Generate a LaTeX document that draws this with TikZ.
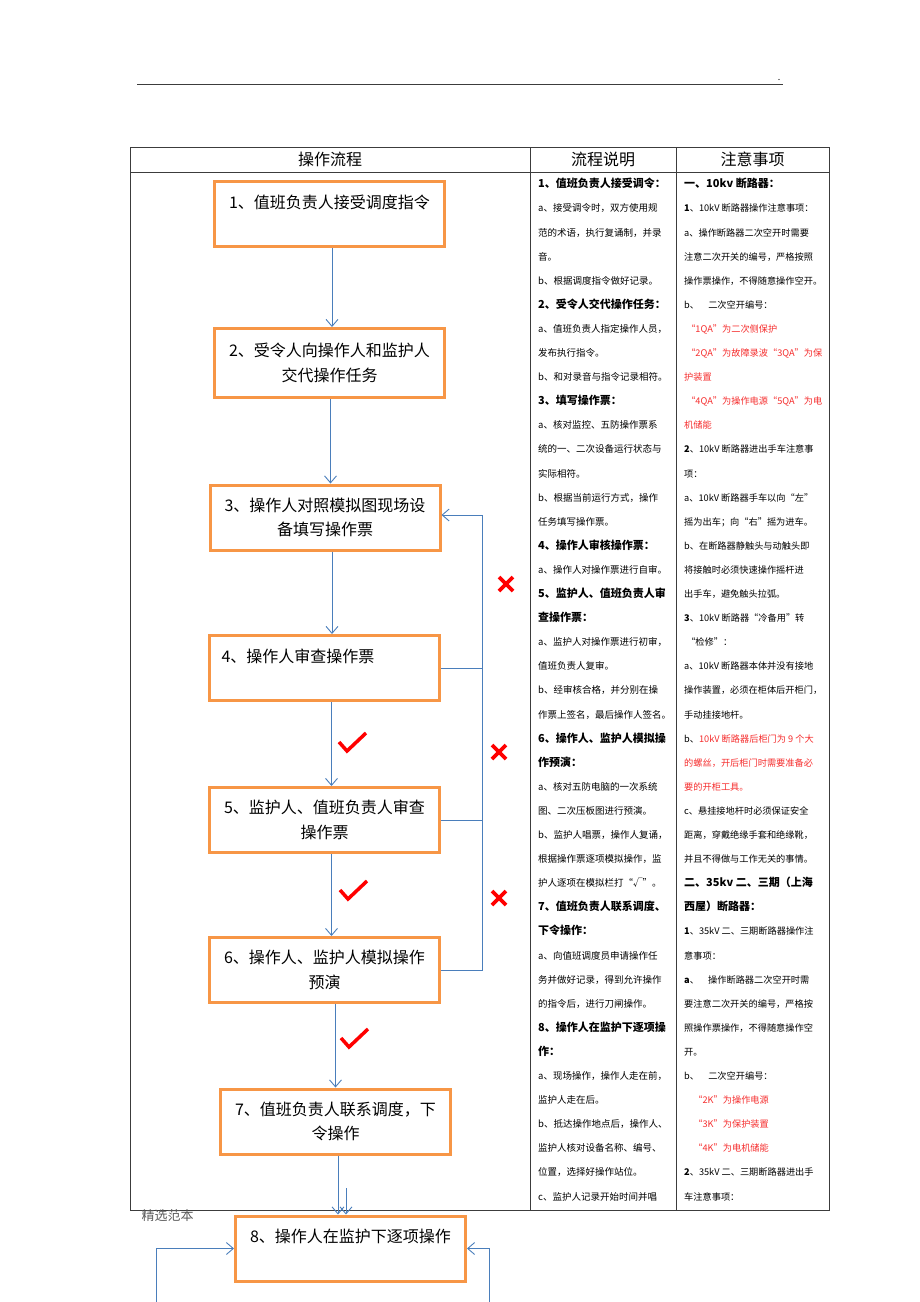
\documentclass[tikz,border=0pt]{standalone}
\usepackage{fontspec}
\setmainfont{Noto Sans CJK SC}
\usetikzlibrary{arrows.meta,positioning,calc}
\definecolor{boxorange}{RGB}{247,150,70}
\definecolor{flowblue}{RGB}{74,126,187}
\definecolor{notered}{RGB}{245,45,45}
\definecolor{rulegray}{RGB}{60,60,60}
\newcommand{\stephead}[1]{{\fontsize{11}{24.1}\selectfont\bfseries #1}}

\begin{document}
\begin{tikzpicture}[x=1pt, y=-1pt,
  stepbox/.style={draw=boxorange, line width=3pt, fill=white, align=center, minimum width=230pt, minimum height=65pt, inner sep=0pt, font=\fontsize{16}{24.5}\selectfont},
  arrow/.style={-{Straight Barb[length=7pt,width=12pt]}, flowblue, line width=0.9pt},
  link/.style={flowblue, line width=0.9pt},
  rule/.style={rulegray, line width=0.8pt},
  head/.style={font=\fontsize{16}{20}\selectfont},
  notes/.style={anchor=base west, align=left, inner sep=0pt},
  tick/.pic={\draw[red, line width=3.5pt] (-13,0) -- (-5,9) -- (14,-9);},
  cross/.pic={\draw[red, line width=3.8pt] (-7,-7) -- (7,7) (-7,7) -- (7,-7);}
]
\useasboundingbox (0,0) rectangle (920,1302);

\draw[rule] (137,84) -- (783,84);
\node[font=\small] (dot) at (779,80) {.};

\draw[rule] (130,147) rectangle (829,1210);
\draw[rule] (130,172) -- (829,172);
\draw[rule] (530,147) -- (530,1210);
\draw[rule] (676,147) -- (676,1210);
\node[head] (h1) at (330,159.5) {操作流程};
\node[head] (h2) at (603,159.5) {流程说明};
\node[head] (h3) at (752.5,159.5) {注意事项};

\node[stepbox] (s1) at (329.5,214) {1、值班负责人接受调度指令\\ \mbox{}};
\node[stepbox, minimum height=69pt] (s2) at (329.5,363) {2、受令人向操作人和监护人\\交代操作任务};
\node[stepbox] (s3) at (325,517.5) {3、操作人对照模拟图现场设\\备填写操作票};
\node[stepbox, align=left, text width=206pt] (s4) at (324.5,668) {4、操作人审查操作票\\ \mbox{}};
\node[stepbox] (s5) at (324.5,820) {5、监护人、值班负责人审查\\操作票};
\node[stepbox] (s6) at (324.5,970) {6、操作人、监护人模拟操作\\预演};
\node[stepbox] (s7) at (335.5,1121.5) {7、值班负责人联系调度，下\\令操作};
\node[stepbox] (s8) at (350.5,1248.5) {8、操作人在监护下逐项操作\\ \mbox{}};

\draw[arrow] ([xshift=2.5]s1.south) -- ([xshift=2.5]s2.north);
\draw[arrow] ([xshift=1]s2.south) -- ([xshift=1]s2.south |- s3.north);
\draw[arrow] ([xshift=7]s3.south) -- ([xshift=7]s3.south |- s4.north);
\draw[arrow] ([xshift=7]s4.south) -- ([xshift=7]s5.north);
\draw[arrow] ([xshift=7]s5.south) -- ([xshift=7]s6.north);
\draw[arrow] (s6.south -| s7.north) -- (s7.north);
\draw[arrow] ([xshift=2.5]s7.south) -- ([xshift=2.5]s7.south |- s8.north);
\coordinate (relay) at (346,1188);
\draw[arrow] (relay) -- (relay |- s8.north);

\coordinate (back) at (482,515);
\draw[arrow] (s6.east) -| (back) -- (back -| s3.east);
\draw[link] (s4.east) -- (s4.east -| back);
\draw[link] (s5.east) -- (s5.east -| back);

\coordinate (left8) at (156,1302);
\coordinate (right8) at (489,1302);
\draw[arrow] (left8) |- (s8.west);
\draw[arrow] (right8) |- (s8.east);

\pic at (352,742) {tick};
\pic at (353,890) {tick};
\pic at (354,1038) {tick};
\pic at (506,584) {cross};
\pic at (499,752) {cross};
\pic at (499,898) {cross};

\node[font=\fontsize{13}{13}\selectfont, text=gray!70!black, anchor=west] (foot) at (138,1216) {精选范本};

\node[notes, font=\fontsize{9.5}{24.1}\selectfont] (flownotes) at (538,1200) {%
\stephead{1、值班负责人接受调令：}\\
a、接受调令时，双方使用规\\
范的术语，执行复诵制，并录\\
音。\\
b、根据调度指令做好记录。\\
\stephead{2、受令人交代操作任务：}\\
a、值班负责人指定操作人员，\\
发布执行指令。\\
b、和对录音与指令记录相符。\\
\stephead{3、填写操作票：}\\
a、核对监控、五防操作票系\\
统的一、二次设备运行状态与\\
实际相符。\\
b、根据当前运行方式，操作\\
任务填写操作票。\\
\stephead{4、操作人审核操作票：}\\
a、操作人对操作票进行自审。\\
\stephead{5、监护人、值班负责人审}\\
\stephead{查操作票：}\\
a、监护人对操作票进行初审，\\
值班负责人复审。\\
b、经审核合格，并分别在操\\
作票上签名，最后操作人签名。\\
\stephead{6、操作人、监护人模拟操}\\
\stephead{作预演：}\\
a、核对五防电脑的一次系统\\
图、二次压板图进行预演。\\
b、监护人唱票，操作人复诵，\\
根据操作票逐项模拟操作，监\\
护人逐项在模拟栏打“√”。\\
\stephead{7、值班负责人联系调度、}\\
\stephead{下令操作：}\\
a、向值班调度员申请操作任\\
务并做好记录，得到允许操作\\
的指令后，进行刀闸操作。\\
\stephead{8、操作人在监护下逐项操}\\
\stephead{作：}\\
a、现场操作，操作人走在前，\\
监护人走在后。\\
b、抵达操作地点后，操作人、\\
监护人核对设备名称、编号、\\
位置，选择好操作站位。\\
c、监护人记录开始时间并唱};

\node[notes, font=\fontsize{9.2}{24.1}\selectfont] (cautions) at (684,1200) {%
\stephead{一、10kv 断路器：}\\
\textbf{1}、10kV 断路器操作注意事项：\\
a、操作断路器二次空开时需要\\
注意二次开关的编号，严格按照\\
操作票操作，不得随意操作空开。\\
b、　二次空开编号：\\
\textcolor{notered}{\ “1QA”为二次侧保护}\\
\textcolor{notered}{\ “2QA”为故障录波“3QA”为保}\\
\textcolor{notered}{护装置}\\
\textcolor{notered}{\ “4QA”为操作电源“5QA”为电}\\
\textcolor{notered}{机储能}\\
\textbf{2}、10kV 断路器进出手车注意事\\
项：\\
a、10kV 断路器手车以向“左”\\
摇为出车；向“右”摇为进车。\\
b、在断路器静触头与动触头即\\
将接触时必须快速操作摇杆进\\
出手车，避免触头拉弧。\\
\textbf{3}、10kV 断路器“冷备用”转\\
\ “检修”：\\
a、10kV 断路器本体并没有接地\\
操作装置，必须在柜体后开柜门，\\
手动挂接地杆。\\
b、\textcolor{notered}{10kV 断路器后柜门为 9 个大}\\
\textcolor{notered}{的螺丝，开后柜门时需要准备必}\\
\textcolor{notered}{要的开柜工具。}\\
c、悬挂接地杆时必须保证安全\\
距离，穿戴绝缘手套和绝缘靴，\\
并且不得做与工作无关的事情。\\
\stephead{二、35kv 二、三期（上海}\\
\stephead{西屋）断路器：}\\
\textbf{1}、35kV 二、三期断路器操作注\\
意事项：\\
\textbf{a}、　操作断路器二次空开时需\\
要注意二次开关的编号，严格按\\
照操作票操作，不得随意操作空\\
开。\\
b、　二次空开编号：\\
\textcolor{notered}{\quad“2K”为操作电源}\\
\textcolor{notered}{\quad“3K”为保护装置}\\
\textcolor{notered}{\quad“4K”为电机储能}\\
\textbf{2}、35kV 二、三期断路器进出手\\
车注意事项：};
\end{tikzpicture}
\end{document}
